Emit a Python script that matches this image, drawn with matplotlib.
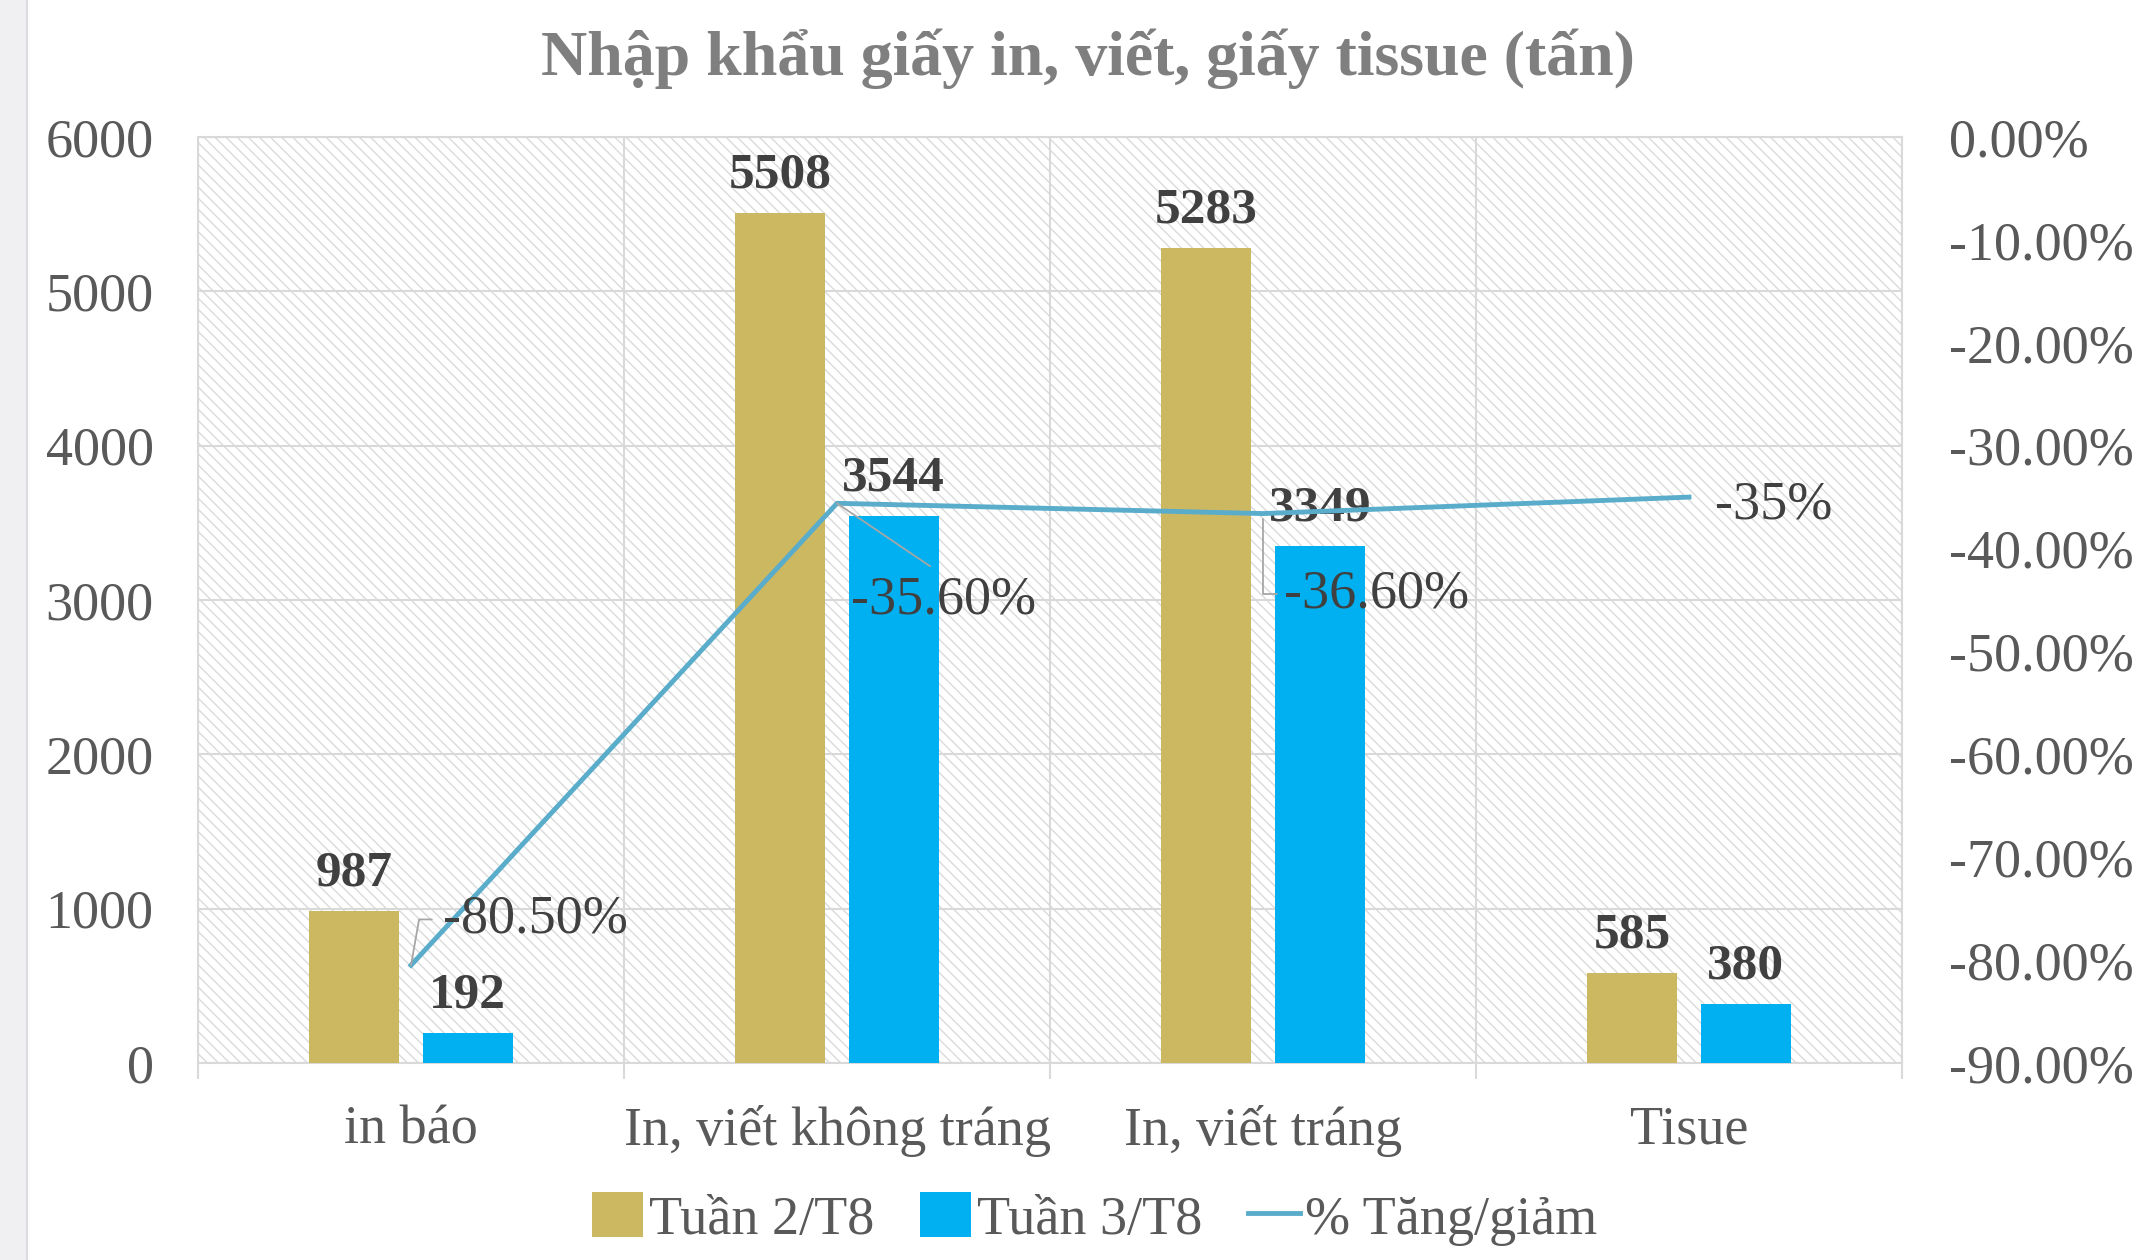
import numpy as np
import matplotlib.pyplot as plt
from matplotlib.patches import Rectangle
from matplotlib.lines import Line2D
from matplotlib.ticker import FuncFormatter

plt.rcParams['font.family'] = ['Liberation Serif', 'DejaVu Serif']
plt.rcParams['hatch.linewidth'] = 1.0

# data
categories = ['in báo', 'In, viết không tráng', 'In, viết tráng', 'Tisue']
tuan2 = [987, 5508, 5283, 585]
tuan3 = [192, 3544, 3349, 380]
pct = [-0.805, -0.356, -0.366, -0.35]
pct_labels = ['-80.50%', '-35.60%', '-36.60%', '-35%']
series_names = ['Tuần 2/T8', 'Tuần 3/T8', '% Tăng/giảm']
title = 'Nhập khẩu giấy in, viết, giấy tissue (tấn)'

# colours
c_gold = '#CDB862'
c_blue = '#00B0F0'
c_line = '#5AACCB'
c_grid = '#d9d9d9'
c_tick = '#595959'
c_lab = '#404040'


def pct_fmt(v, p):
    v = round(v * 100, 2)
    if v == 0:
        v = 0.0
    return '{:.2f}%'.format(v)


fig = plt.figure(figsize=(21.46, 12.6), dpi=100)
fig.patches.append(Rectangle((0, 0), 27 / 2146, 1, transform=fig.transFigure,
                             facecolor='#f0f0f3', edgecolor='none', zorder=0))
fig.add_artist(Line2D([27 / 2146, 27 / 2146], [0, 1], color='#dcdce0', lw=1.5))

ax = fig.add_axes([198 / 2146, 1 - 1063 / 1260, (1902 - 198) / 2146, (1063 - 137) / 1260])
ax.patch.set_alpha(0)
ax.add_patch(Rectangle((0, 0), 1, 1, transform=ax.transAxes, facecolor='white',
                       edgecolor='#dadada', hatch='\\\\\\', lw=0, zorder=-5))

x = np.arange(len(categories))
w = 0.21
off = 0.1335
b1 = ax.bar(x - off, tuan2, w, color=c_gold, zorder=3, label=series_names[0])
b2 = ax.bar(x + off, tuan3, w, color=c_blue, zorder=3, label=series_names[1])

for bars, vals in ((b1, tuan2), (b2, tuan3)):
    for r, v in zip(bars, vals):
        ax.annotate(str(v), (r.get_x() + r.get_width() / 2, v), xytext=(0, 27),
                    textcoords='offset points', ha='center', va='center',
                    fontsize=37, fontweight='bold', color=c_lab, zorder=5)

ax.set_xlim(-0.5, len(categories) - 0.5)
ax.set_ylim(0, 6000)
ax.set_yticks(np.arange(0, 6001, 1000))
ax.set_xticks(np.arange(len(categories) + 1) - 0.5)
ax.set_xticklabels([])
ax.set_xticks(x, minor=True)
ax.set_xticklabels(categories, minor=True)
ax.tick_params(axis='x', which='major', length=11.5, width=1.5, color=c_grid, direction='out')
ax.tick_params(axis='x', which='minor', length=0, pad=30, labelsize=39, labelcolor=c_tick)
ax.tick_params(axis='y', length=0, pad=32, labelsize=39, labelcolor=c_tick)
ax.grid(True, which='major', color=c_grid, lw=1.5, zorder=1)
ax.set_axisbelow(True)
for s in ax.spines.values():
    s.set_color(c_grid)
    s.set_linewidth(1.5)

ax2 = ax.twinx()
ax2.set_ylim(-0.9, 0)
ax2.set_yticks(np.arange(-0.9, 0.001, 0.1))
ax2.yaxis.set_major_formatter(FuncFormatter(pct_fmt))
ax2.tick_params(axis='y', length=0, pad=34, labelsize=39, labelcolor=c_tick)
for s in ax2.spines.values():
    s.set_visible(False)
ln, = ax2.plot(x, pct, color=c_line, lw=3.5, zorder=4, label=series_names[2])

# percentage labels with leader lines
lab_offsets = [(23, 33), (10, -70), (15, -58), (19, -6)]
leaders = [dict(arrowstyle='-', color='#a6a6a6', lw=1.3, relpos=(0, 0.5),
                connectionstyle='angle,angleA=0,angleB=80,rad=0', shrinkA=6, shrinkB=0),
           dict(arrowstyle='-', color='#a6a6a6', lw=1.3, relpos=(0.5, 1.0),
                shrinkA=8, shrinkB=0),
           dict(arrowstyle='-', color='#a6a6a6', lw=1.3, relpos=(0, 0.5),
                connectionstyle='angle,angleA=0,angleB=90,rad=0', shrinkA=3, shrinkB=4),
           None]
for xi, v, t, o, lp in zip(x, pct, pct_labels, lab_offsets, leaders):
    ax2.annotate(t, (xi, v), xytext=o, textcoords='offset points', ha='left', va='center',
                 fontsize=39, color=c_lab, arrowprops=lp, zorder=6)

fig.text(0.507, 1 - 59 / 1260, title, ha='center', va='center', fontsize=46,
         fontweight='bold', color='#7f7f7f')

fig.legend([b1, b2, ln], series_names, loc='center', bbox_to_anchor=(0.51, 1 - 1219 / 1260),
           ncol=3, frameon=False, fontsize=39, labelcolor=c_tick, handlelength=0.95,
           handleheight=0.9, handletextpad=0.1, columnspacing=0.85)

fig.savefig('out.png', dpi=100)
